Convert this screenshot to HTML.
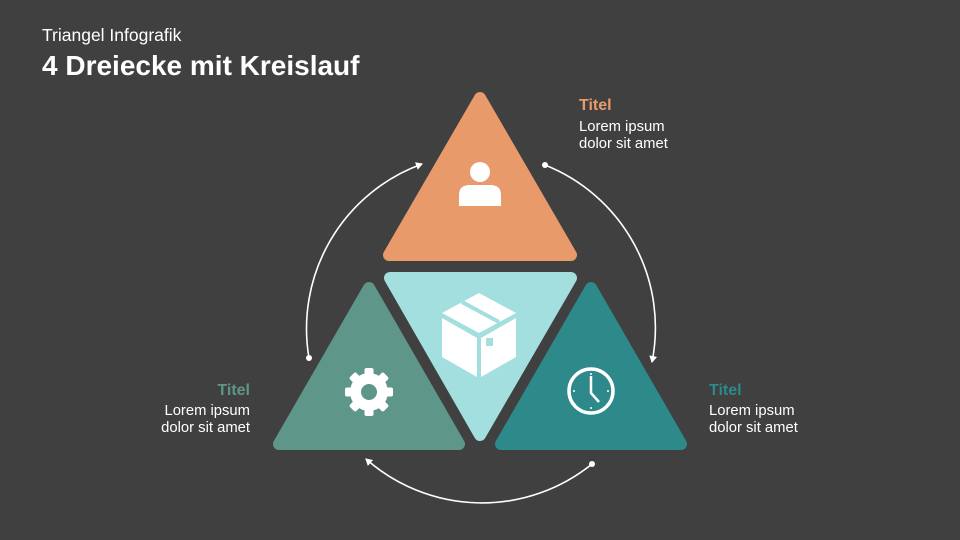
<!DOCTYPE html>
<html><head><meta charset="utf-8"><style>
body{margin:0;width:960px;height:540px;background:#404040;overflow:hidden;font-family:"Liberation Sans",sans-serif;position:relative}
.t{position:absolute;color:#fff;white-space:nowrap}
.h{font-weight:bold;font-size:16px}
.b{font-size:14.8px;line-height:17px}
</style></head><body>
<div class="t" style="left:42px;top:25px;font-size:17.5px">Triangel Infografik</div>
<div class="t" style="left:42px;top:50px;font-size:28px;font-weight:bold">4 Dreiecke mit Kreislauf</div>

<div class="t h" style="left:579px;top:97px;color:#E99A6A">Titel</div>
<div class="t b" style="left:579px;top:119px">Lorem ipsum<br>dolor sit amet</div>
<div class="t h" style="right:710px;top:382px;color:#5E968A;text-align:right">Titel</div>
<div class="t b" style="right:710px;top:403px;text-align:right">Lorem ipsum<br>dolor sit amet</div>
<div class="t h" style="left:709px;top:382px;color:#2E898A">Titel</div>
<div class="t b" style="left:709px;top:403px">Lorem ipsum<br>dolor sit amet</div>

<svg width="960" height="540" style="position:absolute;left:0;top:0">
<defs><marker id="a" markerWidth="8" markerHeight="8" refX="6" refY="4" orient="auto" markerUnits="userSpaceOnUse"><path d="M0,0 L7,4 L0,8 Z" fill="#fff"/></marker></defs>
<g fill="none" stroke="#fff" stroke-width="1.6" marker-end="url(#a)">
<path d="M545,165 A175,175 0 0 1 652,362"/>
<path d="M592,464 A175,175 0 0 1 366,459"/>
<path d="M309,358 A175,175 0 0 1 422,164"/>
</g>
<g fill="#fff"><circle cx="545" cy="165" r="3"/><circle cx="592" cy="464" r="3"/><circle cx="309" cy="358" r="3"/></g>
<g stroke-linejoin="round" stroke-width="12">
<polygon points="480,98 571,255 389,255" fill="#E99A6A" stroke="#E99A6A"/>
<polygon points="390,278 571,278 480,435" fill="#A3DFDE" stroke="#A3DFDE"/>
<polygon points="369,288 459,444 279,444" fill="#5E968A" stroke="#5E968A"/>
<polygon points="591,288 681,444 501,444" fill="#2E898A" stroke="#2E898A"/>
</g>
<circle cx="480" cy="172" r="10" fill="#fff"/>
<path d="M459,206 L459,195 Q459,185 470,185 L490,185 Q501,185 501,195 L501,206 Z" fill="#fff"/>
<g fill="#fff">
<polygon points="442,313 479,293 516,313 479,333"/>
<polygon points="442,318 477,338 477,377 442,357"/>
<polygon points="481,338 516,318 516,357 481,377"/>
</g>
<g stroke="#A3DFDE" stroke-width="4"><line x1="462" y1="302" x2="499" y2="322"/></g>
<rect x="486" y="338" width="7" height="8" fill="#A3DFDE"/>
<g transform="translate(369,392)" fill="#fff">
<circle r="19"/>
<g><rect x="-4.5" y="-24" width="9" height="48" rx="2"/><rect x="-4.5" y="-24" width="9" height="48" rx="2" transform="rotate(45)"/><rect x="-4.5" y="-24" width="9" height="48" rx="2" transform="rotate(90)"/><rect x="-4.5" y="-24" width="9" height="48" rx="2" transform="rotate(135)"/></g>
<circle r="8" fill="#5E968A"/>
</g>
<g transform="translate(591,391)">
<circle r="22" fill="none" stroke="#fff" stroke-width="3.5"/>
<path d="M0,-15 L0,2 L8,11" fill="none" stroke="#fff" stroke-width="2.5"/>
<g fill="#fff"><circle cx="0" cy="-17" r="1"/><circle cx="0" cy="17" r="1"/><circle cx="-17" cy="0" r="1"/><circle cx="17" cy="0" r="1"/></g>
</g>
</svg>
</body></html>
